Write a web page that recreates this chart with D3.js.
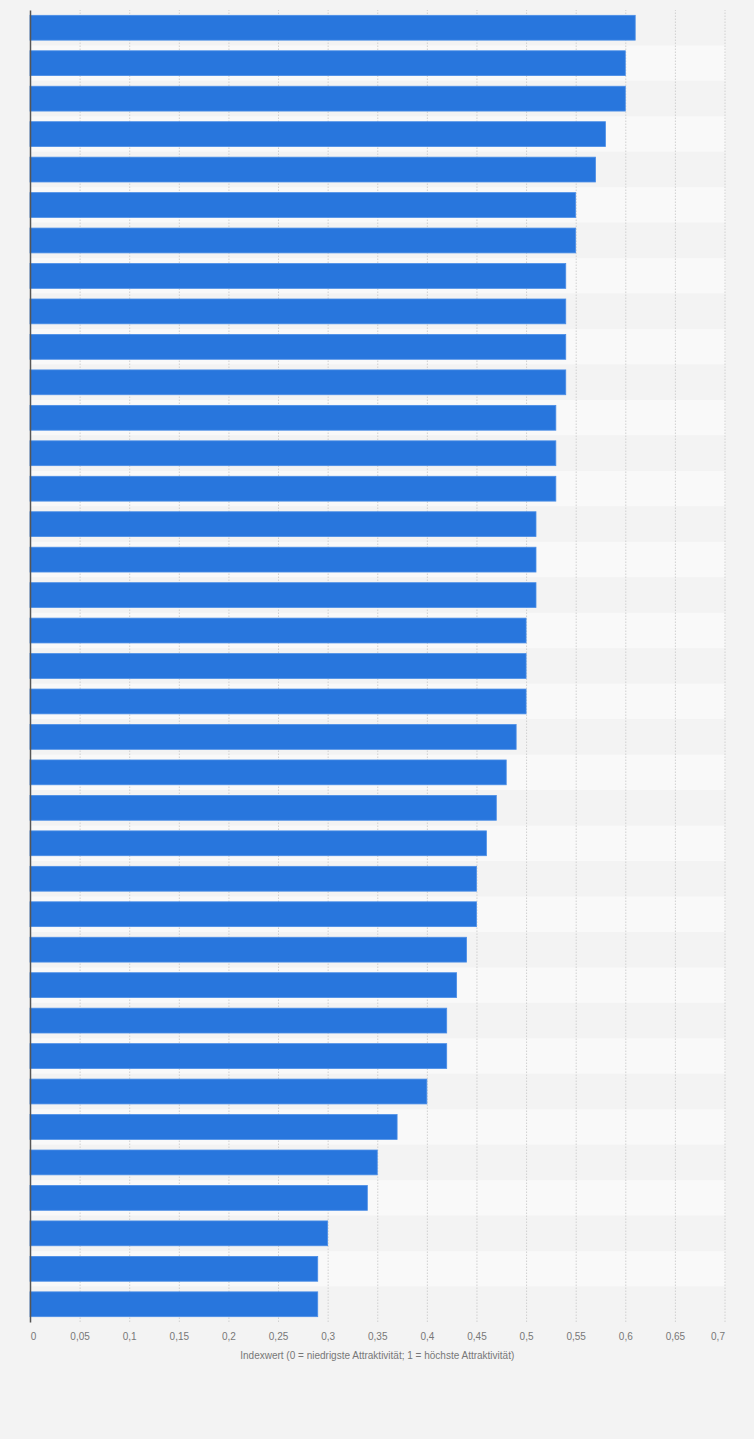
<!DOCTYPE html>
<head>
  <meta charset="utf-8">
  <script src="https://d3js.org/d3.v7.min.js"></script>
  <style>
    body { margin:0; background:#f3f3f3; }
    text { font-family: "Liberation Sans", Arial, sans-serif; }
  </style>
</head>

<body>
  <script>
    // rows have no visible labels in the reference, so they are numbered
    var categories = d3.range(1, 38).map(function(i) { return "Rang " + i; });
    var values = [0.61, 0.60, 0.60, 0.58, 0.57, 0.55, 0.55, 0.54, 0.54, 0.54,
                  0.54, 0.53, 0.53, 0.53, 0.51, 0.51, 0.51, 0.50, 0.50, 0.50,
                  0.49, 0.48, 0.47, 0.46, 0.45, 0.45, 0.44, 0.43, 0.42, 0.42,
                  0.40, 0.37, 0.35, 0.34, 0.30, 0.29, 0.29];
    var xTicks = [0, 0.05, 0.1, 0.15, 0.2, 0.25, 0.3, 0.35, 0.4, 0.45, 0.5, 0.55, 0.6, 0.65, 0.7];
    var xTitle = "Indexwert (0 = niedrigste Attraktivität; 1 = höchste Attraktivität)";

    var data = categories.map(function(c, i) { return {name: c, value: values[i]}; });

    var width = 754,
        height = 1439;
    var svg = d3.select("body").append("svg")
      .attr("width", width)
      .attr("height", height)

    var plotLeft = 30, plotTop = 10, plotRight = 724.5, plotBottom = 1322;

    var xScale = d3.scaleLinear()
      .domain([0, 0.7])
      .range([plotLeft, plotRight]);

    var yScale = d3.scaleBand()
      .domain(categories)
      .range([plotTop, plotBottom])
      .paddingInner(0.3)
      .paddingOuter(0.15);

    // row stripes
    var step = yScale.step();
    svg.append('g').selectAll('rect')
      .data(categories)
      .enter()
      .append('rect')
      .attr('x', plotLeft)
      .attr('width', plotRight - plotLeft + 1)
      .attr('y', function(d) { return yScale(d) - yScale.paddingOuter() * step; })
      .attr('height', step)
      .attr('fill', function(d, i) { return i % 2 ? '#f9f9f9' : '#f3f3f3'; });

    //grid
    svg.append('g')
      .attr('transform', 'translate(0,' + plotBottom + ')')
      .call(d3.axisBottom(xScale).tickValues(xTicks.slice(1)).tickSize(-(plotBottom - plotTop)).tickFormat(''))
      .call(function(g) {
        g.select('.domain').remove();
        g.selectAll('line').attr('stroke', '#d0d0d0').attr('stroke-dasharray', '1.5,1.5');
      });

    //bars
    svg.append('g').selectAll('rect')
      .data(data)
      .enter()
      .append('rect')
      .attr('x', xScale(0))
      .attr('y', function(d) { return yScale(d.name); })
      .attr('width', function(d) { return xScale(d.value) - xScale(0); })
      .attr('height', yScale.bandwidth())
      .attr('fill', '#2876dd')
      .attr('stroke', '#4b8ee6')
      .attr('stroke-width', 0.8);

    //x axis labels
    var fmt = function(d) { return String(d).replace('.', ','); };
    svg.append('g')
      .attr('transform', 'translate(0,' + plotBottom + ')')
      .call(d3.axisBottom(xScale).tickValues(xTicks).tickSize(0).tickPadding(11).tickFormat(fmt))
      .call(function(g) {
        g.select('.domain').remove();
        g.selectAll('text').attr('fill', '#777').style('font-size', '10px');
        g.selectAll('.tick').filter(function(d) { return d === 0; }).select('text').attr('dx', 3);
        g.selectAll('.tick').filter(function(d) { return d === 0.7; }).select('text').attr('dx', -7);
      });

    //y axis line
    svg.append('g')
      .attr('transform', 'translate(' + plotLeft + ',0)')
      .call(d3.axisLeft(yScale).tickSize(0).tickFormat(''))
      .call(function(g) {
        g.select('.domain').attr('stroke', '#555').attr('stroke-width', 1.5);
      });

    svg.append('text')
      .attr('x', (plotLeft + plotRight) / 2)
      .attr('y', 1359)
      .attr('text-anchor', 'middle')
      .attr('fill', '#777')
      .style('font-size', '10px')
      .text(xTitle);
  </script>
</body>
